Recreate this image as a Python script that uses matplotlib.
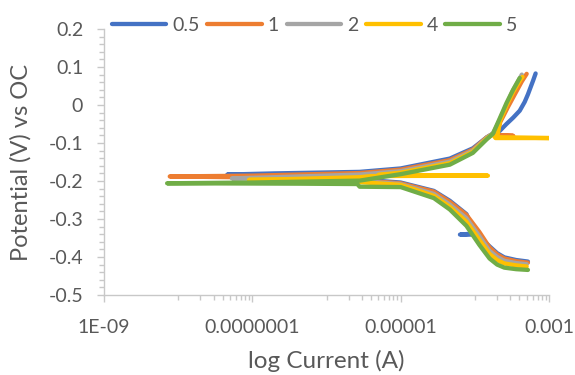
import numpy as np
import matplotlib
matplotlib.use("Agg")
import matplotlib.pyplot as plt
from matplotlib.ticker import FixedLocator, NullFormatter

plt.rcParams['font.family'] = ['Lato', 'DejaVu Sans']

labels = ["0.5", "1", "2", "4", "5"]
colors = ["#4472C4", "#ED7D31", "#A5A5A5", "#FFC000", "#70AD47"]

# scan order: cathodic end -> low-current spike near Ecorr -> anodic end
cur_05 = [5.2e-4, 3.6e-4, 2.5e-4, 2.0e-4, 1.58e-4, 1.2e-4, 1.07e-4, 6.3e-5, 1.0e-4, 7.7e-5,
          4.6e-5, 2.8e-5, 1e-5, 2.8e-6, 4e-7, 4.6e-8,
          2e-7, 2.8e-6, 1e-5, 4.6e-5, 9.4e-5, 1.45e-4, 1.8e-4, 2.17e-4, 2.67e-4, 3.3e-4,
          4.03e-4, 4.7e-4, 5.2e-4, 6.1e-4, 6.6e-4]
pot_05 = [-0.412, -0.408, -0.401, -0.390, -0.372, -0.350, -0.341, -0.341, -0.338, -0.287,
          -0.252, -0.226, -0.204, -0.196, -0.190, -0.183,
          -0.180, -0.176, -0.167, -0.141, -0.114, -0.085, -0.074, -0.068, -0.050, -0.033,
          -0.015, 0.008, 0.028, 0.064, 0.083]

cur_1 = [5.2e-4, 3.6e-4, 2.5e-4, 2.0e-4, 1.58e-4, 1.15e-4, 7.7e-5, 4.6e-5, 2.8e-5, 1e-5,
         2.8e-6, 4e-7, 7.7e-9,
         1e-7, 2.8e-6, 1e-5, 4.6e-5, 9.4e-5, 1.45e-4, 1.75e-4, 1.96e-4, 3.3e-4, 1.98e-4,
         2.2e-4, 2.8e-4, 3.5e-4, 4.3e-4, 5.0e-4]
pot_1 = [-0.415, -0.411, -0.404, -0.393, -0.375, -0.334, -0.289, -0.255, -0.228, -0.206,
         -0.198, -0.192, -0.188,
         -0.186, -0.179, -0.170, -0.145, -0.117, -0.085, -0.076, -0.081, -0.081, -0.079,
         -0.045, -0.005, 0.030, 0.062, 0.082]

cur_2 = [5.0e-4, 3.6e-4, 2.5e-4, 2.0e-4, 1.58e-4, 1.15e-4, 7.7e-5, 4.6e-5, 2.8e-5, 1e-5,
         2.8e-6, 4e-7, 5.3e-8,
         2e-7, 2.8e-6, 1e-5, 4.6e-5, 9.4e-5, 1.45e-4, 1.75e-4, 2.1e-4, 2.6e-4, 3.2e-4,
         3.9e-4, 4.3e-4]
pot_2 = [-0.419, -0.416, -0.410, -0.400, -0.384, -0.345, -0.298, -0.262, -0.234, -0.208,
         -0.200, -0.195, -0.193,
         -0.190, -0.183, -0.174, -0.149, -0.120, -0.086, -0.075, -0.045, -0.005, 0.035,
         0.065, 0.080]

cur_4 = [5.0e-4, 3.6e-4, 2.5e-4, 2.0e-4, 1.58e-4, 1.15e-4, 7.7e-5, 4.6e-5, 2.8e-5, 1e-5,
         2.8e-6, 4e-7, 9e-8,
         3e-7, 2.8e-6, 4e-6, 1.5e-4, 5e-6, 1e-5, 4.6e-5, 9.4e-5, 1.45e-4, 1.75e-4, 1.9e-4,
         1.02e-3, 2.0e-4, 2.2e-4, 2.7e-4, 3.3e-4, 4.1e-4, 4.4e-4]
pot_4 = [-0.425, -0.422, -0.417, -0.408, -0.392, -0.355, -0.307, -0.268, -0.239, -0.210,
         -0.203, -0.198, -0.197,
         -0.195, -0.190, -0.187, -0.186, -0.184, -0.178, -0.153, -0.123, -0.088, -0.077, -0.087,
         -0.087, -0.085, -0.040, 0.000, 0.035, 0.066, 0.074]

cur_5 = [5.2e-4, 3.6e-4, 2.5e-4, 2.0e-4, 1.58e-4, 1.15e-4, 7.7e-5, 4.6e-5, 2.8e-5, 1e-5,
         2.8e-6, 2.6e-6, 4e-7, 7.1e-9,
         1e-7, 2.8e-6, 1e-5, 4.6e-5, 9.4e-5, 1.45e-4, 1.75e-4, 2.17e-4, 2.67e-4, 3.28e-4,
         4.03e-4]
pot_5 = [-0.434, -0.432, -0.428, -0.420, -0.404, -0.368, -0.318, -0.275, -0.245, -0.216,
         -0.215, -0.208, -0.207, -0.206,
         -0.204, -0.199, -0.182, -0.157, -0.126, -0.090, -0.076, -0.035, 0.005, 0.040,
         0.071]

series = [(cur_05, pot_05), (cur_1, pot_1), (cur_2, pot_2), (cur_4, pot_4), (cur_5, pot_5)]

x_major = [1e-9, 1e-7, 1e-5, 1e-3]
x_major_labels = ["1E-09", "0.0000001", "0.00001", "0.001"]

fig = plt.figure(figsize=(5.75, 3.75), dpi=100)
ax = fig.add_axes([104 / 575, 80 / 375, 445 / 575, 266 / 375])

for (c, p), lab, col in zip(series, labels, colors):
    ax.plot(c, p, color=col, lw=3.1, label=lab, solid_capstyle='round', solid_joinstyle='round')

ax.set_xscale('log')
ax.set_xlim(1e-9, 1e-3)
ax.set_ylim(-0.5, 0.2)

ax.xaxis.set_major_locator(FixedLocator(x_major))
ax.set_xticklabels(x_major_labels)
minor = [k * 10.0 ** (a + 1) for a in (-9, -7, -5) for k in range(1, 10)]
ax.xaxis.set_minor_locator(FixedLocator(minor))
ax.xaxis.set_minor_formatter(NullFormatter())

ax.set_yticks(np.arange(-0.5, 0.21, 0.1))
ax.set_yticklabels(["-0.5", "-0.4", "-0.3", "-0.2", "-0.1", "0", "0.1", "0.2"])
ax.yaxis.set_minor_locator(FixedLocator(np.arange(-0.5, 0.201, 0.02)))

for s in ['top', 'right']:
    ax.spines[s].set_visible(False)
for s in ['left', 'bottom']:
    ax.spines[s].set_color('#C8C8C8')
    ax.spines[s].set_linewidth(1.0)

ax.tick_params(which='both', direction='out', color='#C8C8C8', labelcolor='#595959',
               labelsize=14)
ax.tick_params(which='major', length=5, width=1)
ax.tick_params(which='minor', length=3.5, width=1)
ax.tick_params(axis='y', which='major', pad=10)
ax.tick_params(axis='x', which='major', pad=12)

ax.set_xlabel("log Current (A)", fontsize=17.5, color='#595959', labelpad=10)
ax.set_ylabel("Potential (V) vs OC", fontsize=17, color='#595959', labelpad=12)

fig.legend(loc='center', bbox_to_anchor=(0.547, 0.933), ncol=5, frameon=False,
           fontsize=14, handlelength=2.8, handletextpad=0.3, columnspacing=0.4,
           labelcolor='#595959')

fig.savefig("out.png", dpi=100)
